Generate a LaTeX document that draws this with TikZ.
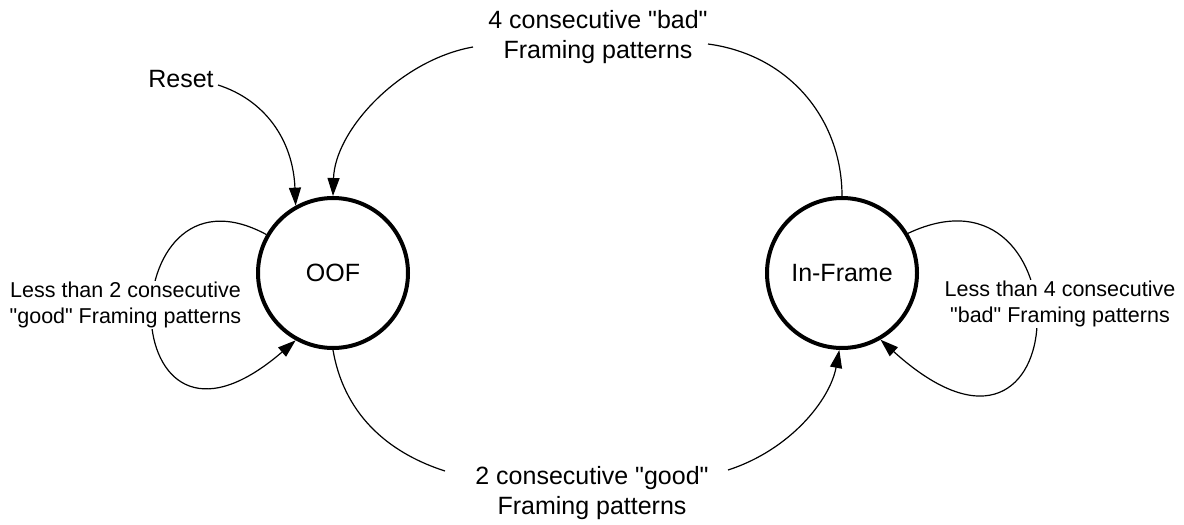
\documentclass[tikz,border=0pt]{standalone}
\usepackage{fontspec}
\setmainfont{Liberation Sans}[Ligatures=TeXOff]
\usetikzlibrary{arrows.meta}
\begin{document}
\begin{tikzpicture}[x=1pt,y=-1pt,
  statenode/.style={circle,draw,line width=4pt,minimum size=150pt,inner sep=0pt,
    font=\fontsize{25}{30}\selectfont},
  conn/.style={line width=1.2pt},
  arrowed/.style={-{Triangle[length=18pt,width=12pt]}},
  biglabel/.style={align=center,font=\fontsize{25}{30}\selectfont,inner sep=0pt},
  smalllabel/.style={align=center,font=\fontsize{21.5}{26}\selectfont,fill=white,inner sep=1pt}]
\useasboundingbox (0,0) rectangle (1184,525);

% the two states
\node[statenode] (oof) at (333,273) {OOF};
\node[statenode] (inframe) at (842,273) {In-Frame};

% transition labels
\node[biglabel] (reset) at (181,79) {Reset};
\node[biglabel] (bad4) at (598,37) {4 consecutive "bad"\\Framing patterns};
\node[biglabel] (good2) at (592,493) {2 consecutive "good"\\Framing patterns};

% free ends of the connectors next to the labels
\coordinate (resetEnd) at (218,85);
\coordinate (badL) at (473,47);
\coordinate (badR) at (708,44);
\coordinate (goodL) at (445,471);
\coordinate (goodR) at (728,470);

% reset
\draw[conn,arrowed] (resetEnd) .. controls (265,100) and (293,140) .. (oof.119);

% In-Frame -> OOF
\draw[conn] (inframe.90) .. controls (842,120) and (790,55) .. (badR);
\draw[conn,arrowed] (badL) .. controls (400,60) and (335,130) .. (oof.90);

% OOF -> In-Frame
\draw[conn] (oof.270) .. controls (345,420) and (395,455) .. (goodL);
\draw[conn,arrowed] (goodR) .. controls (790,450) and (830,400) .. (inframe.268);

% self loops
\draw[conn,arrowed] (oof.150) .. controls (110,150) and (110,500) .. (oof.241);
\draw[conn,arrowed] (inframe.31) .. controls (1085,150) and (1080,520) .. (inframe.-60);

% loop labels, drawn over the loops
\node[smalllabel] (less2) at (125.5,305) {Less than 2 consecutive\\"good" Framing patterns};
\node[smalllabel] (less4) at (1060,304) {Less than 4 consecutive\\"bad" Framing patterns};
\end{tikzpicture}
\end{document}
